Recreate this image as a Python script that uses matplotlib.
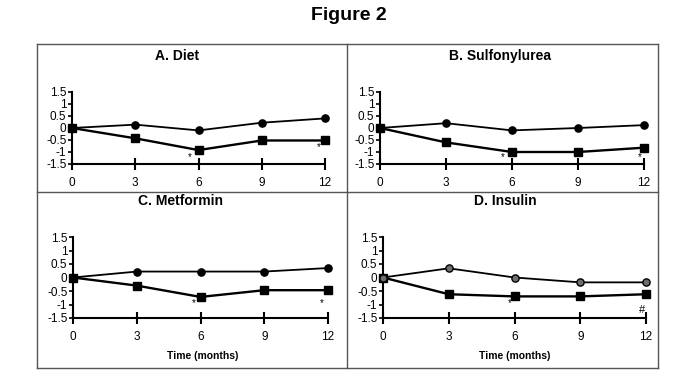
import matplotlib
matplotlib.use("Agg")
import matplotlib.pyplot as plt
from matplotlib.lines import Line2D

plt.rcParams['font.family'] = ['Liberation Sans', 'DejaVu Sans']

months = [0, 3, 6, 9, 12]
xtick_labels = ["0", "3", "6", "9", "12"]
yticks = [-1.5, -1, -0.5, 0, 0.5, 1, 1.5]
ytick_labels = ["-1.5", "-1", "-0.5", "0", "0.5", "1", "1.5"]

titles = ["A. Diet", "B. Sulfonylurea", "C. Metformin", "D. Insulin"]
circles = {
    "A": [0, 0.14, -0.1, 0.22, 0.4],
    "B": [0, 0.2, -0.1, 0.0, 0.12],
    "C": [0, 0.22, 0.22, 0.22, 0.35],
    "D": [0, 0.34, 0.0, -0.18, -0.18],
}
squares = {
    "A": [0, -0.43, -0.92, -0.52, -0.52],
    "B": [0, -0.6, -1.0, -1.0, -0.82],
    "C": [0, -0.3, -0.72, -0.47, -0.47],
    "D": [0, -0.62, -0.7, -0.7, -0.62],
}
# annotations: (x, y, text)
notes = {
    "A": [(5.6, -1.2, "*"), (11.7, -0.8, "*")],
    "B": [(5.6, -1.22, "*"), (11.8, -1.22, "*")],
    "C": [(5.66, -0.95, "*"), (11.7, -0.95, "*")],
    "D": [(5.77, -0.95, "*"), (11.8, -1.2, "#")],
}

W, H = 682, 392
fig = plt.figure(figsize=(W / 100, H / 100), dpi=100)

def px_rect(x0, x1, ytop, ybot):
    return [x0 / W, 1 - ybot / H, (x1 - x0) / W, (ybot - ytop) / H]

# panel geometry (pixels)
panels = {
    "A": dict(rect=px_rect(72, 325, 92, 164), title=(177, 56), xlabel=None),
    "B": dict(rect=px_rect(380, 644, 92, 164), title=(500, 56), xlabel=None),
    "C": dict(rect=px_rect(73, 328, 237, 318), title=(180, 201), xlabel=(203, 356)),
    "D": dict(rect=px_rect(383, 646, 237, 318), title=(505, 201), xlabel=(515, 356)),
}

circle_face = {"A": "black", "B": "black", "C": "black", "D": "#6e6e6e"}

for key, title in zip(["A", "B", "C", "D"], titles):
    p = panels[key]
    ax = fig.add_axes(p["rect"])
    ax.plot(months, squares[key], color="black", lw=1.7, marker="s", ms=5.2,
            mfc="black", mec="black", clip_on=False, zorder=3)
    ax.plot(months, circles[key], color="black", lw=1.3, marker="o", ms=5.2,
            mfc=circle_face[key], mec="black", clip_on=False, zorder=4)
    for (x, y, t) in notes[key]:
        ax.text(x, y, t, fontsize=7 if t == "*" else 8, ha="center", va="center",
                clip_on=False)
    ax.set_xlim(0, 12)
    ax.set_ylim(-1.5, 1.5)
    ax.set_xticks(months)
    ax.set_xticklabels(xtick_labels)
    ax.set_yticks(yticks)
    ax.set_yticklabels(ytick_labels)
    for s in ["top", "right"]:
        ax.spines[s].set_visible(False)
    for s in ["left", "bottom"]:
        ax.spines[s].set_linewidth(1.5)
    ax.tick_params(axis="x", direction="inout", length=9, width=1.5,
                   labelsize=8.5, pad=5)
    ax.tick_params(axis="y", direction="out", length=3, width=1.2,
                   labelsize=8.5, pad=1)
    ax.patch.set_alpha(0)
    fig.text(p["title"][0] / W, 1 - p["title"][1] / H, title, fontsize=10,
             fontweight="bold", ha="center", va="center")
    if p["xlabel"]:
        fig.text(p["xlabel"][0] / W, 1 - p["xlabel"][1] / H, "Time (months)",
                 fontsize=7.5, fontweight="bold", ha="center", va="center")

# outer box and dividers
box_color = "#555555"
L, R, T, B = 37, 658, 44, 368
MX, MY = 347, 192
def fl(x0, y0, x1, y1):
    fig.add_artist(Line2D([x0 / W, x1 / W], [1 - y0 / H, 1 - y1 / H],
                          color=box_color, lw=1.0))
fl(L, T, R, T)
fl(L, B, R, B)
fl(L, T, L, B)
fl(R, T, R, B)
fl(MX, T, MX, B)
fl(L, MY, R, MY)

fig.text(349 / W, 1 - 15 / H, "Figure 2", fontsize=14, fontweight="bold",
         ha="center", va="center")

fig.savefig("out.png", dpi=100)
